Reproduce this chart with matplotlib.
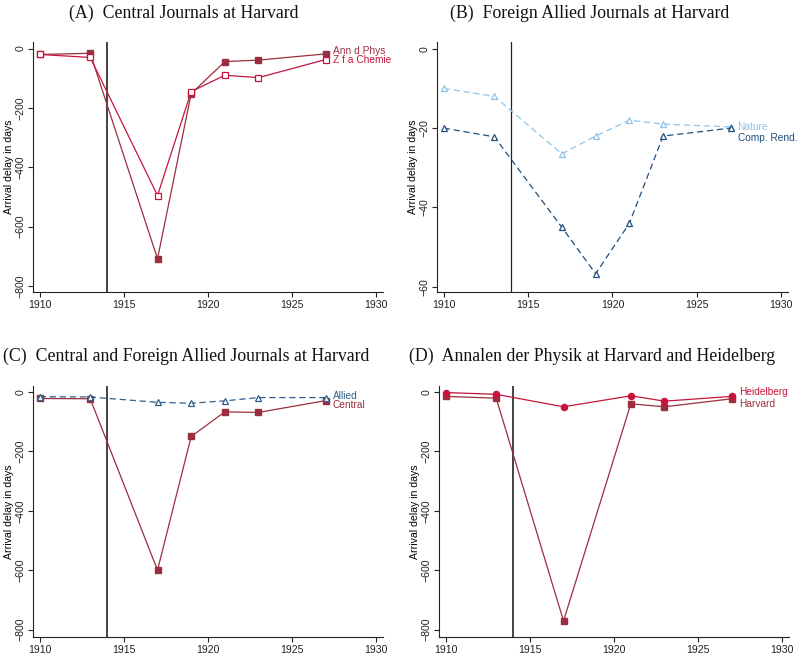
import matplotlib
matplotlib.use("Agg")
import matplotlib.pyplot as plt
import numpy as np

# ---------------- data ----------------
years_a = [1910, 1913, 1917, 1919, 1921, 1923, 1927]
ann_phys_a = [-20, -16, -708, -152, -44, -39, -18]
zfa_chemie_a = [-20, -30, -495, -145, -90, -98, -37]

years_b = [1910, 1913, 1917, 1919, 1921, 1923, 1927]
nature_b = [-10, -12, -26.5, -22, -18, -19, -19.7]
comp_rend_b = [-20, -22.2, -45, -56.7, -44, -22, -20]

years_c = [1910, 1913, 1917, 1919, 1921, 1923, 1927]
allied_c = [-16, -17, -35, -38, -30, -19, -19]
central_c = [-22, -23, -600, -150, -67, -69, -29]

years_d = [1910, 1913, 1917, 1921, 1923, 1927]
heidelberg_d = [-2, -8, -50, -13, -31, -15]
harvard_d = [-15, -21, -771, -40, -50, -23]

titles = ["(A)  Central Journals at Harvard",
          "(B)  Foreign Allied Journals at Harvard",
          "(C)  Central and Foreign Allied Journals at Harvard",
          "(D)  Annalen der Physik at Harvard and Heidelberg"]
xticks = [1910, 1915, 1920, 1925, 1930]
yticks_big = [0, -200, -400, -600, -800]
yticks_b = [0, -20, -40, -60]
war_year = 1914

# ---------------- style ----------------
MAROON = "#9b2f3f"
CRIMSON = "#c8143c"
LIGHTBLUE = "#8fc4ea"
NAVY = "#1f4f7d"
ALLIED = "#2d5f8f"

W, H = 799, 657
fig = plt.figure(figsize=(W / 100, H / 100), dpi=100)

def ax_rect(l, r, t, b):
    return [l / W, 1 - b / H, (r - l) / W, (b - t) / H]

rects = [ax_rect(33, 383, 42, 292), ax_rect(437, 788, 42, 292),
         ax_rect(33, 383, 386, 637), ax_rect(439, 789, 386, 637)]
title_pos = [(184, 13), (590, 13), (186, 356), (592, 356)]

def style_ax(ax, ylim, yticks):
    ax.set_xlim(1909.6, 1930.4)
    ax.set_ylim(*ylim)
    ax.set_xticks(xticks)
    ax.set_yticks(yticks)
    ax.set_yticklabels([str(v).replace("-", "\u2212") for v in yticks],
                       rotation=90, va="center")
    for s in ["top", "right"]:
        ax.spines[s].set_visible(False)
    for s in ["left", "bottom"]:
        ax.spines[s].set_linewidth(0.8)
        ax.spines[s].set_color("#222222")
    ax.tick_params(labelsize=7.6, length=3.5, width=0.8, colors="#222222",
                   pad=2)
    for lab in ax.get_xticklabels() + ax.get_yticklabels():
        lab.set_fontfamily("Liberation Sans")
    ax.set_ylabel("Arrival delay in days", fontsize=7.6,
                  family="Liberation Sans", labelpad=1)
    ax.axvline(war_year, color="#222222", lw=1.2 if ylim[0] < -100 else 0.9,
               zorder=1)

def label_end(ax, x, y, text, color, dy):
    ax.annotate(text, xy=(x[-1], y[-1]), xytext=(5, dy),
                textcoords="offset points", fontsize=7.3, color=color,
                family="Liberation Sans", va="center", ha="left",
                annotation_clip=False)

axes = [fig.add_axes(r) for r in rects]

# Panel A
ax = axes[0]
style_ax(ax, (-820, 22), yticks_big)
ax.plot(years_a, ann_phys_a, color=MAROON, lw=0.9, marker="s", ms=4.4,
        mfc=MAROON, mec=MAROON, zorder=3)
ax.plot(years_a, zfa_chemie_a, color=CRIMSON, lw=0.9, marker="s", ms=3.8,
        mfc="white", mec=CRIMSON, mew=0.9, zorder=4)
label_end(ax, years_a, ann_phys_a, "Ann d Phys", MAROON, 2)
label_end(ax, years_a, zfa_chemie_a, "Z f a Chemie", CRIMSON, -0.5)

# Panel B
ax = axes[1]
style_ax(ax, (-61.3, 1.7), yticks_b)
ax.plot(years_b, nature_b, color=LIGHTBLUE, lw=0.9, ls=(0, (5, 3)),
        marker="^", ms=4, mfc="white", mec=LIGHTBLUE, mew=0.9, zorder=3)
ax.plot(years_b, comp_rend_b, color=NAVY, lw=0.9, ls=(0, (5, 3)),
        marker="^", ms=4, mfc="white", mec=NAVY, mew=0.9, zorder=4)
label_end(ax, years_b, nature_b, "Nature", LIGHTBLUE, 0)
label_end(ax, years_b, comp_rend_b, "Comp. Rend.", NAVY, -7)

# Panel C
ax = axes[2]
style_ax(ax, (-825, 20), yticks_big)
ax.plot(years_c, central_c, color=MAROON, lw=0.9, marker="s", ms=4.4,
        mfc=MAROON, mec=MAROON, zorder=3)
ax.plot(years_c, allied_c, color=ALLIED, lw=0.9, ls=(0, (5, 3)),
        marker="^", ms=4, mfc="white", mec=ALLIED, mew=0.9, zorder=4)
label_end(ax, years_c, allied_c, "Allied", ALLIED, 1)
label_end(ax, years_c, central_c, "Central", MAROON, -3)

# Panel D
ax = axes[3]
style_ax(ax, (-825, 20), yticks_big)
ax.plot(years_d, harvard_d, color=MAROON, lw=0.9, marker="s", ms=4.4,
        mfc=MAROON, mec=MAROON, zorder=3)
ax.plot(years_d, heidelberg_d, color=CRIMSON, lw=0.9, marker="o", ms=4.4,
        mfc=CRIMSON, mec=CRIMSON, zorder=4)
label_end(ax, years_d, heidelberg_d, "Heidelberg", CRIMSON, 3)
label_end(ax, years_d, harvard_d, "Harvard", MAROON, -4)

for (tx, ty), t in zip(title_pos, titles):
    fig.text(tx / W, 1 - ty / H, t, ha="center", va="center", fontsize=12.8,
             family="Liberation Serif", color="#111111")

fig.savefig("out.png", dpi=100)
